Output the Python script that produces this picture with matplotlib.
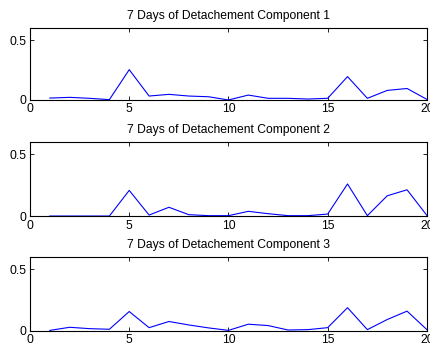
import matplotlib
matplotlib.use("Agg")
import matplotlib.pyplot as plt

plt.rcParams['font.family'] = ['Liberation Sans', 'DejaVu Sans']

days = list(range(1, 21))
comp1 = [0.016, 0.022, 0.014, 0.003, 0.253, 0.033, 0.047, 0.033, 0.027, 0.0,
         0.041, 0.014, 0.014, 0.008, 0.014, 0.195, 0.014, 0.080, 0.096, 0.005]
comp2 = [0.0, 0.0, 0.0, 0.0, 0.208, 0.008, 0.071, 0.011, 0.003, 0.003,
         0.038, 0.019, 0.003, 0.003, 0.016, 0.260, 0.003, 0.164, 0.213, 0.005]
comp3 = [0.005, 0.030, 0.019, 0.014, 0.158, 0.027, 0.077, 0.049, 0.025, 0.005,
         0.055, 0.044, 0.008, 0.011, 0.027, 0.189, 0.011, 0.093, 0.161, 0.011]
components = [comp1, comp2, comp3]
titles = ['7 Days of Detachement Component %d' % (i + 1) for i in range(3)]

fig = plt.figure(figsize=(4.30, 3.49), dpi=100)
# axes boxes (left, bottom, width, height) in figure fraction
boxes = [(0.0698, 0.7135, 0.923, 0.206),
         (0.0698, 0.381, 0.923, 0.212),
         (0.0698, 0.0516, 0.923, 0.212)]

for box, vals, title in zip(boxes, components, titles):
    ax = fig.add_axes(box)
    ax.plot(days, vals, color='#0000ff', linewidth=0.8)
    ax.set_xlim(0, 20)
    ax.set_ylim(0, 0.6)
    ax.set_xticks([0, 5, 10, 15, 20])
    ax.set_yticks([0, 0.5])
    ax.set_yticklabels(['0', '0.5'])
    ax.tick_params(direction='in', top=True, right=True, labelsize=8.7,
                   length=3, width=0.6, pad=2.5)
    for s in ax.spines.values():
        s.set_linewidth(0.8)
    ax.set_title(title, fontsize=8.7, pad=6.5)

fig.savefig('out.png', dpi=100)
